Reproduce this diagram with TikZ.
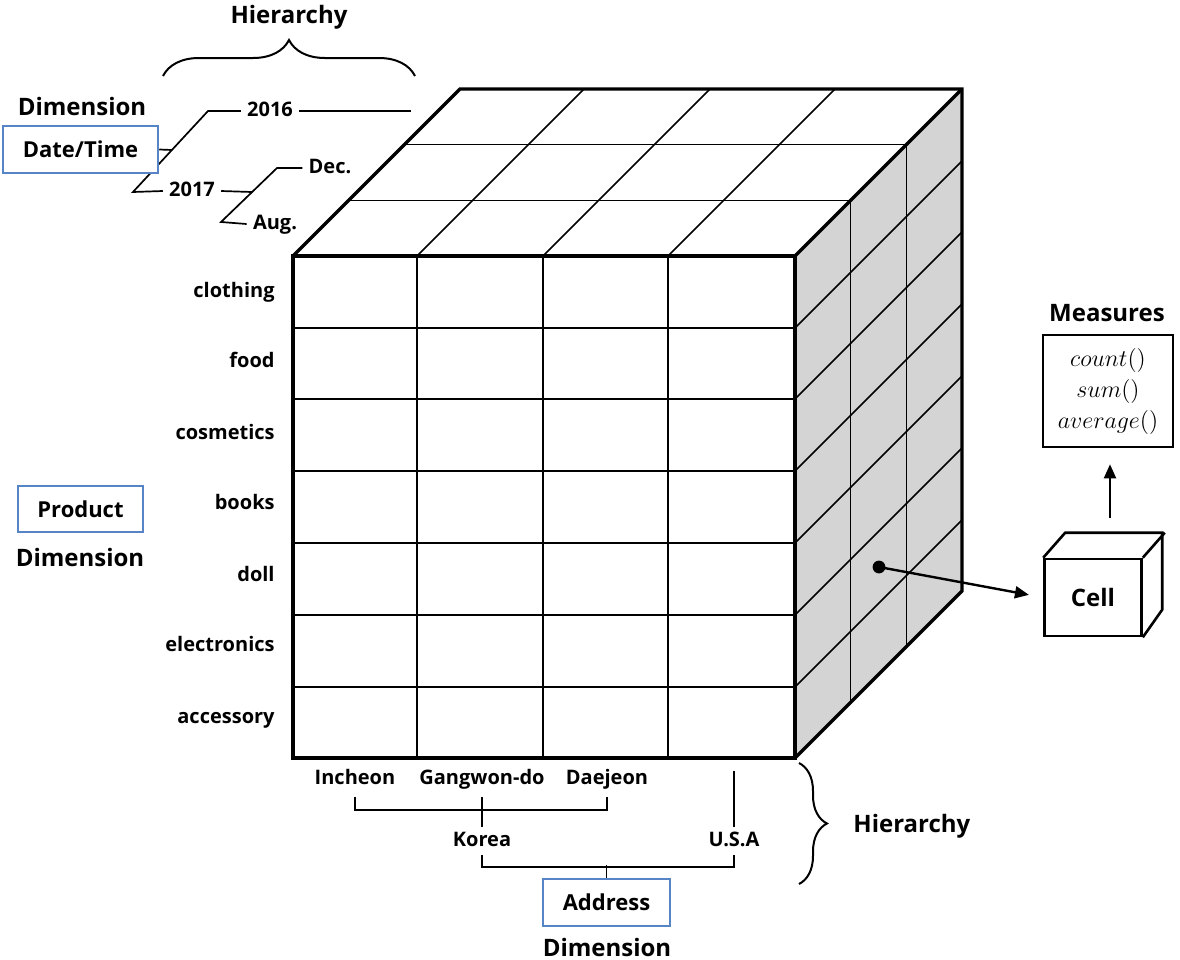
\documentclass[tikz,border=0pt]{standalone}
\usepackage{fontspec}
\setmainfont{Open Sans}
\usetikzlibrary{decorations.pathreplacing,arrows.meta,backgrounds}
\definecolor{facegray}{RGB}{212,212,212}
\definecolor{boxblue}{RGB}{86,132,198}
\begin{document}
\begin{tikzpicture}[x=0.5pt,y=-0.5pt,
  lbl/.style={font=\bfseries\fontsize{10}{12}\selectfont, inner xsep=3pt, inner ysep=0pt, text height=7.5pt, text depth=2pt},
  head/.style={font=\bfseries\fontsize{12}{14}\selectfont, inner sep=0pt},
  dimbox/.style={draw=boxblue, fill=white, line width=1.25pt, font=\bfseries\fontsize{11}{13}\selectfont, inner sep=0pt},
  hl/.style={line width=0.85pt},
  thinline/.style={line width=0.8pt},
  cubeedge/.style={line width=1.7pt, line join=miter},
  brc/.style={decorate, decoration={brace, amplitude=#1}, line width=1pt},
  arr/.style={line width=1.2pt, -{Triangle[length=7pt,width=6pt]}}
]
\useasboundingbox (0,0) rectangle (1180,960);

% ---------- cube ----------
\fill[facegray] (795,256) -- (962,89) -- (962,591) -- (795,758) -- cycle;
\foreach \x in {417,543,668} { \draw[thinline] (\x,758) -- (\x,256) -- ++(167,-167); }
\foreach \y in {328,399,471,543,615,687} { \draw[thinline] (293,\y) -- (795,\y) -- ++(167,-167); }
\draw[thinline] (348.67,200.33) -- (850.67,200.33) -- (850.67,702.33);
\draw[thinline] (404.33,144.67) -- (906.33,144.67) -- (906.33,646.67);
\draw[cubeedge] (293,256) rectangle (795,758);
\draw[cubeedge] (293,256) -- (460,89) -- (962,89) -- (962,591) -- (795,758);
\draw[cubeedge] (795,256) -- (962,89);

% ---------- product labels ----------
\node[lbl, anchor=east] (clothing) at (281,292) {clothing};
\node[lbl, anchor=east] (food) at (281,362) {food};
\node[lbl, anchor=east] (cosmetics) at (281,434) {cosmetics};
\node[lbl, anchor=east] (books) at (281,504) {books};
\node[lbl, anchor=east] (doll) at (281,576) {doll};
\node[lbl, anchor=east] (electronics) at (281,646) {electronics};
\node[lbl, anchor=east] (accessory) at (281,718) {accessory};

\node[dimbox, minimum width=62.5pt, minimum height=23pt] (prod) at (80.5,509) {Product};
\node[head] (dimprod) at (80,557) {Dimension};

% ---------- date/time hierarchy ----------
\node[head] (hiertop) at (289,17) {Hierarchy};
\draw[brc=18pt] (163,76) -- (415,76);
\node[head] (dimtop) at (82,106) {Dimension};
\node[dimbox, minimum width=77.5pt, minimum height=23.5pt] (dt) at (80.5,149.5) {Date/Time};
\node[lbl] (y2016) at (270,111) {2016};
\node[lbl] (y2017) at (192,191) {2017};
\node[lbl] (dec) at (330,168) {Dec.};
\node[lbl] (aug) at (275,224) {Aug.};
\begin{scope}[on background layer]
\draw[hl] (dt.east) -- (172,150);
\draw[hl] (y2017.west) -- (133,192) -- (208,111) -- (y2016.west);
\end{scope}
\draw[hl] (y2016.east) -- (411,111);
\draw[hl] (y2017.east) -- (252,192);
\draw[hl] (aug.west) -- (221,222) -- (277,168) -- (dec.west);

% ---------- address hierarchy ----------
\node[lbl] (incheon) at (355,779) {Incheon};
\node[lbl] (gangwon) at (482,779) {Gangwon-do};
\node[lbl] (daejeon) at (607,779) {Daejeon};
\node[lbl] (korea) at (482,841) {Korea};
\node[lbl] (usa) at (734,841) {U.S.A};
\draw[hl] ([yshift=-4pt]incheon.south) -- ++(0,13) -| ([yshift=-4pt]daejeon.south);
\draw[hl] ([yshift=-4pt]gangwon.south) -- ([yshift=2pt]korea.north);
\draw[hl] ([yshift=2pt]usa.north) -- ++(0,-56);
\draw[hl] ([yshift=-2pt]korea.south) -- ++(0,12) -| ([yshift=-2pt]usa.south);
\node[dimbox, minimum width=63.5pt, minimum height=23.5pt] (addr) at (606.5,902.5) {Address};
\draw[hl] (addr.north) -- ++(0,-12.5);
\node[head] (dimaddr) at (607,947) {Dimension};
\draw[brc=14pt] (799,763) -- (799,884);
\node[head, anchor=west] (hierright) at (853,826) {Hierarchy};

% ---------- cell and measures ----------
\coordinate (dot) at (879,567);
\fill (dot) circle[radius=3.2pt];
\node[draw, line width=1.3pt, minimum width=48.5pt, minimum height=38.5pt, inner sep=0pt, font=\bfseries\fontsize{12}{14}\selectfont] (cell) at (1093,597.5) {Cell};
\draw[line width=1.3pt, line join=miter] (cell.north west) -- ++(22,-25) -- ++(97,0) -- ++(0,77) -- (cell.south east);
\draw[line width=1.3pt] (cell.north east) -- ++(22,-25);
\draw[arr, shorten >=7.25pt] (dot) -- (cell.west);

\node[draw, line width=1.3pt, minimum width=65pt, minimum height=56pt, inner sep=0pt, align=center, font=\fontsize{13}{15.5}\selectfont] (meas) at (1108,391) {$count()$\\$sum()$\\$average()$};
\node[head] (meastitle) at (1107,313) {Measures};
\coordinate (up1) at (1110,518);
\draw[arr, line width=1pt, shorten >=8pt] (up1) -- (up1 |- meas.south);
\end{tikzpicture}
\end{document}
